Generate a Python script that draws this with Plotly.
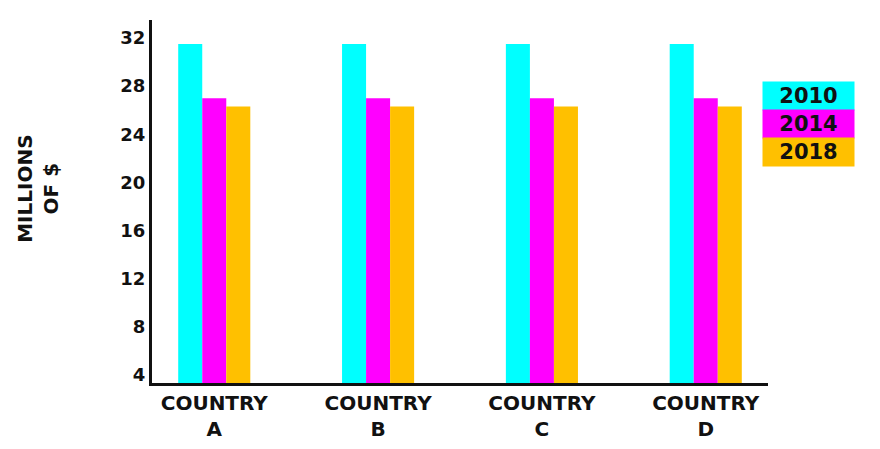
import plotly.graph_objects as go

countries = ["COUNTRY<br>A", "COUNTRY<br>B", "COUNTRY<br>C", "COUNTRY<br>D"]
years = ["2010", "2014", "2018"]
values_2010 = [31.5, 31.5, 31.5, 31.5]
values_2014 = [27.0, 27.0, 27.0, 27.0]
values_2018 = [26.3, 26.3, 26.3, 26.3]
colors = ["#00FFFF", "#FF00FF", "#FFC000"]

font_name = "DejaVu Sans"

fig = go.Figure()
for year, vals, col in zip(years, [values_2010, values_2014, values_2018], colors):
    fig.add_trace(go.Bar(x=countries, y=vals, name=year, marker_color=col,
                         marker_line_width=0))

# legend drawn as coloured label boxes
for i, (year, col) in enumerate(zip(years, colors)):
    fig.add_annotation(text="<b>" + year + "</b>", xref="paper", yref="paper",
                       x=0.990, y=(302 - 28 * i) / 363.0,
                       xanchor="left", yanchor="top",
                       width=89, height=26, bgcolor=col, showarrow=False,
                       font=dict(family=font_name, size=21, color="#111111"))

fig.add_annotation(text="<b>MILLIONS<br>OF $</b>", xref="paper", yref="paper",
                   x=-0.185, y=0.535, textangle=-90, showarrow=False,
                   xanchor="center", yanchor="middle",
                   font=dict(family=font_name, size=20, color="#111111"))

fig.update_layout(
    width=880, height=449,
    margin=dict(l=144, r=120, t=12, b=74),
    plot_bgcolor="white", paper_bgcolor="white",
    barmode="group", bargap=0.56, bargroupgap=0,
    showlegend=False,
    font=dict(family=font_name, color="#111111"),
)
fig.update_xaxes(range=[-0.38, 3.38], showline=True, linecolor="#111111",
                 linewidth=3, showgrid=False, ticks="",
                 tickfont=dict(family=font_name, size=20, weight="bold"))
fig.update_yaxes(range=[3.3, 33.5], tickvals=[4, 8, 12, 16, 20, 24, 28, 32],
                 showline=True, linecolor="#111111", linewidth=3,
                 showgrid=False, zeroline=False, ticks="", ticklabelstandoff=0,
                 tickfont=dict(family=font_name, size=18, weight="bold"))

fig.write_html("out.html")
